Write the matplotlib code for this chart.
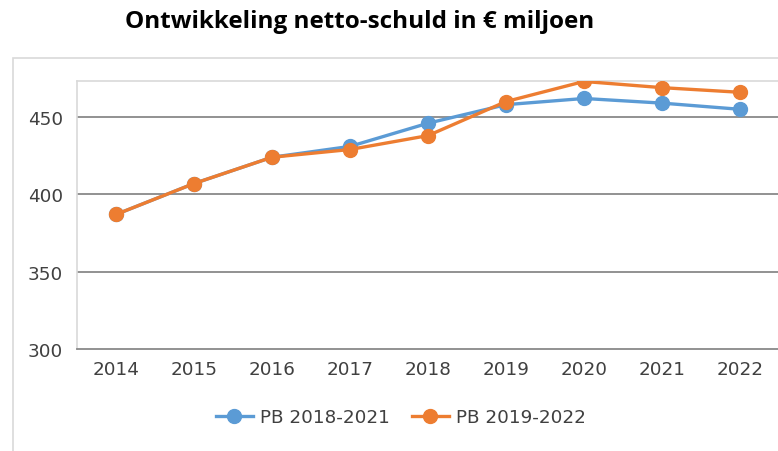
import matplotlib
matplotlib.use("Agg")
import matplotlib.pyplot as plt
from matplotlib.patches import Rectangle

years = ["2014", "2015", "2016", "2017", "2018", "2019", "2020", "2021", "2022"]
pb_2018_2021 = [387, 407, 424, 431, 446, 458, 462, 459, 455]
pb_2019_2022 = [387, 407, 424, 429, 438, 460, 473, 469, 466]
series_names = ["PB 2018-2021", "PB 2019-2022"]
yticks = [300, 350, 400, 450]

W, H = 778, 452
plt.rcParams["font.family"] = ["DejaVu Sans"]
fig = plt.figure(figsize=(W / 100, H / 100), dpi=100)

# outer chart border
fig.patches.append(Rectangle((13 / W, -0.1), 1.2, 1 - 59 / H + 0.1, transform=fig.transFigure,
                             fill=False, edgecolor="#D9D9D9", linewidth=1.2))

ax = fig.add_axes([77 / W, 1 - 350 / H, (779 - 77) / W, (350 - 82) / H])
x = list(range(len(years)))
ax.plot(x, pb_2018_2021, color="#5B9BD5", lw=2.4, marker="o", ms=10, label=series_names[0], zorder=3)
ax.plot(x, pb_2019_2022, color="#ED7D31", lw=2.4, marker="o", ms=10, label=series_names[1], zorder=4)

ax.set_xlim(-0.5, len(years) - 0.5)
ax.set_ylim(300, 473.3)
ax.set_yticks(yticks)
ax.set_xticks(x)
ax.set_xticklabels(years)
for v in yticks[1:]:
    ax.axhline(v, color="#898989", lw=1.3, zorder=1)
ax.tick_params(length=0, labelsize=13.2, labelcolor="#404040", pad=8)
ax.tick_params(axis="y", pad=10)
for s in ["left", "top"]:
    ax.spines[s].set_color("#D9D9D9")
    ax.spines[s].set_linewidth(1.2)
ax.spines["right"].set_visible(False)
ax.spines["bottom"].set_color("#898989")
ax.spines["bottom"].set_linewidth(1.3)

fig.text(360 / W, 1 - 22 / H, "Ontwikkeling netto-schuld in € miljoen", ha="center", va="center",
         fontsize=17.5, fontweight="bold", family=["Open Sans", "DejaVu Sans"])

leg = fig.legend(loc="center", bbox_to_anchor=(401 / W, 1 - 418 / H), ncol=2, frameon=False,
                 fontsize=13.2, handlelength=2.0, columnspacing=1.2, handletextpad=0.4)
for t in leg.get_texts():
    t.set_color("#404040")

fig.savefig("out.png", dpi=100)
